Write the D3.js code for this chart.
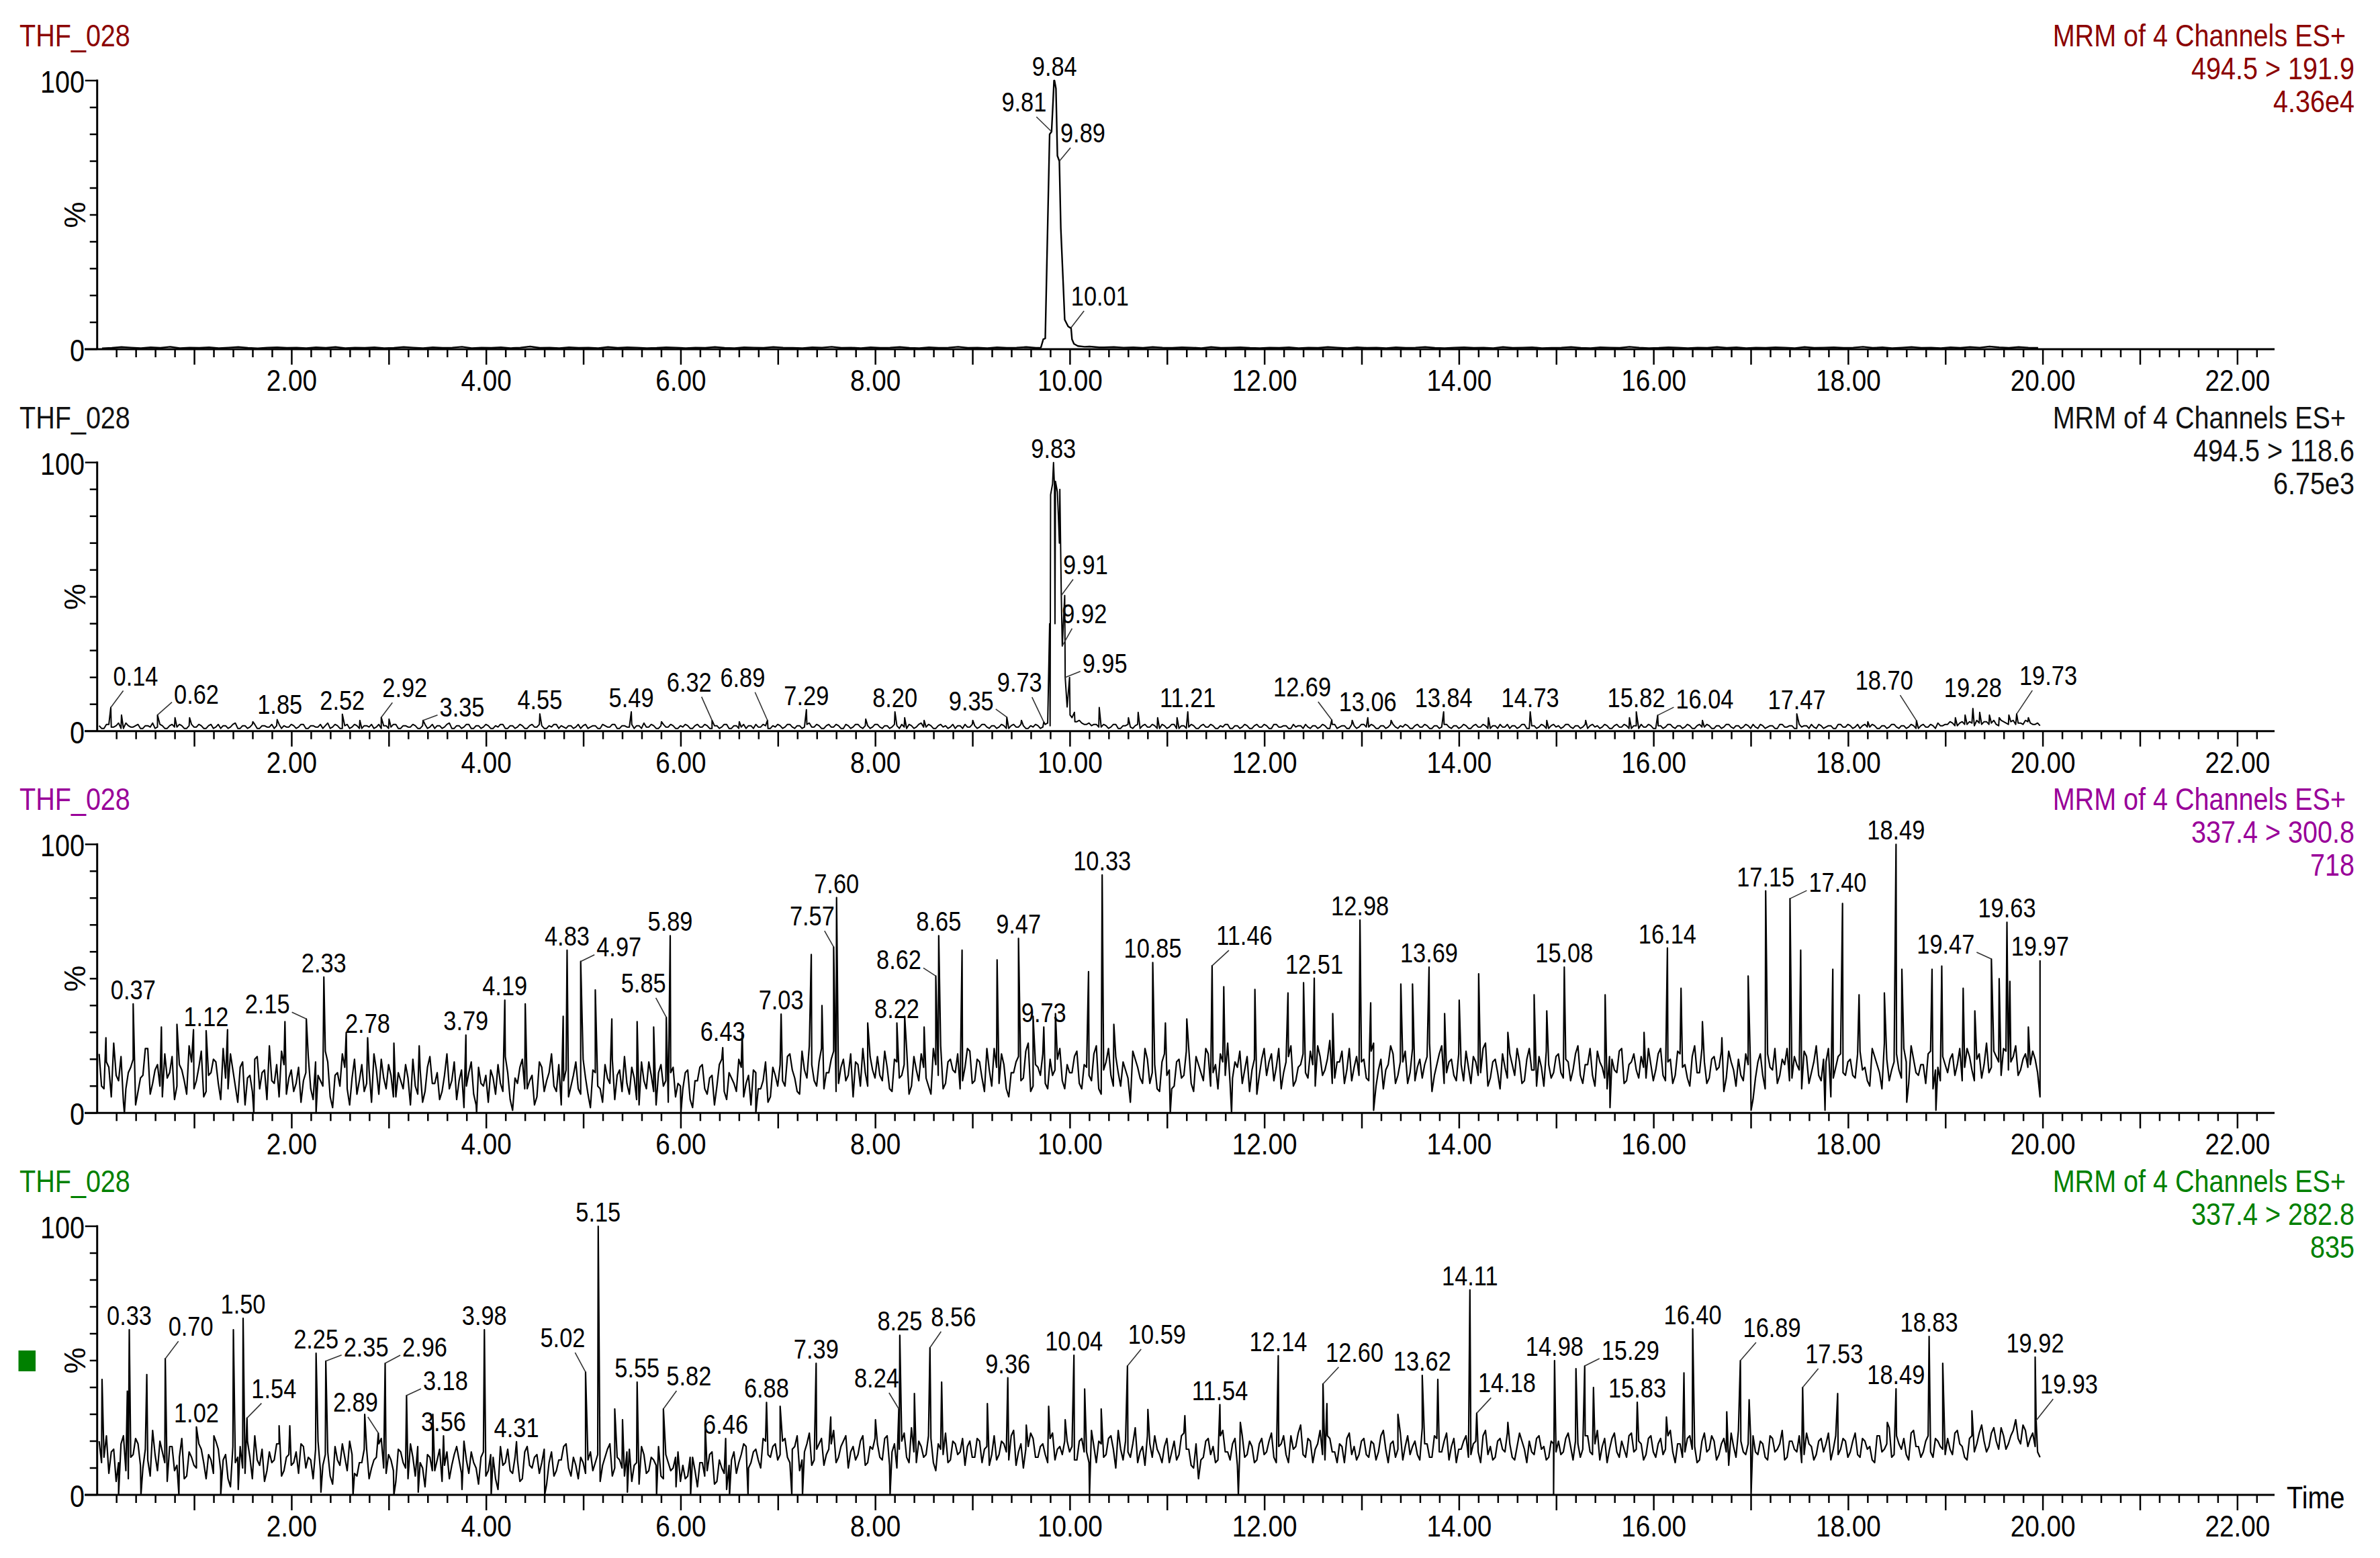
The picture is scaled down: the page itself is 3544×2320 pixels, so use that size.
<!DOCTYPE html>
<html><head><meta charset="utf-8">
<script src="https://cdn.jsdelivr.net/npm/d3@7"></script>
<style>html,body{margin:0;padding:0;background:#fff;} svg{display:block;background:#fff}</style>
</head><body>
<svg id="c" width="3544" height="2320"></svg>
<script>
// ---------------- DATA ----------------
const sampleName = "THF_028";
const headerLine = "MRM of 4 Channels ES+";
const channels = ["494.5 > 191.9", "494.5 > 118.6", "337.4 > 300.8", "337.4 > 282.8"];
const intensities = ["4.36e4", "6.75e3", "718", "835"];
const xTickLabels = ["2.00","4.00","6.00","8.00","10.00","12.00","14.00","16.00","18.00","20.00","22.00"];
const yTickLabels = ["0", "100"];

// Panel 1 baseline, t = 0.05 + 0.1*i (% of max)
const p1Base = [
0.3,0.5,0.8,0.6,0.4,0.7,0.5,0.9,0.4,0.6, 0.5,0.7,0.4,0.6,0.8,0.5,0.3,0.6,0.7,0.5,
0.6,0.4,0.7,0.5,0.8,0.4,0.6,0.5,0.7,0.4, 0.5,0.8,0.6,0.4,0.7,0.5,0.6,0.9,0.4,0.6,
0.5,0.7,0.4,0.6,1.0,0.5,0.6,0.4,0.7,0.5, 0.6,0.4,0.8,0.5,0.7,0.6,0.4,0.5,0.7,0.6,
0.4,0.6,0.5,0.8,0.5,0.4,0.7,0.6,0.5,0.8, 0.6,0.5,0.4,0.7,0.6,0.9,0.5,0.6,0.4,0.7,
0.5,0.6,0.8,0.5,0.4,0.7,0.5,0.6,0.9,0.5, 0.6,0.4,0.7,0.5,0.6,0.8,0.5,0.6,0.7,0.9,
1.0,0.9,0.8,0.7,0.8,0.6,0.7,0.5,0.8,0.6, 0.5,0.7,0.6,0.4,0.8,0.5,0.6,0.7,0.5,0.4,
0.6,0.5,0.7,0.4,0.6,0.5,0.8,0.6,0.4,0.7, 0.5,0.6,0.4,0.7,0.5,0.6,0.8,0.5,0.4,0.6,
0.7,0.5,0.6,0.4,0.8,0.5,0.6,0.7,0.4,0.5, 0.6,0.8,0.5,0.4,0.7,0.6,0.5,0.9,0.6,0.4,
0.5,0.7,0.6,0.4,0.6,0.5,0.8,0.5,0.7,0.4, 0.6,0.5,0.7,0.6,0.4,0.8,0.5,0.6,0.7,0.5,
0.6,0.9,0.5,0.7,0.4,0.6,0.8,0.5,0.6,0.4, 0.7,0.5,0.8,0.6,1.0,0.7,0.5,0.8,0.6,0.5];
const p1Peaks = [[9.81,81],[9.84,100],[9.89,70],[10.01,8]];
const p1Extra = [[9.70,0.6],[9.725,3.7],[9.745,4],[9.79,80],[9.825,92],[9.835,100],[9.855,97],[9.87,72],[9.905,45],[9.93,24],[9.945,11],[9.98,8.5],[10.0,8],[10.02,3.7],[10.04,2],[10.08,1.2],[10.15,0.9],[10.2,1.0],[10.3,0.7]];

// Panels 2-4 noise: series A at t = 0.02 + 0.05*i, series B at t = 0.045 + 0.05*i (% of max)
const p2NoiseA = [
2,1,2.5,1.5,3,1,2,1.5,2.5,1,2,3,1.5,2,1,2.5,1.5,2,1,2.5,
1.5,2,1,2.5,1.5,1,2,1.5,3,1,2,1.5,2.5,1,2,1.5,1,2.5,2,1.5,
2,1.5,2.5,1,2,1.5,1,3,1.5,2,1,2.5,1.5,2,1,2,2.5,1.5,1,2,
1.5,2.5,1,2,1.5,2,1,2.5,1.5,1,2,1.5,3,1,2,1.5,2.5,1,2,1.5,
2,1,1.5,2.5,1,2,1.5,2,1,2.5,1.5,2,1,1.5,2.5,2,1,2,1.5,1,
2.5,1.5,2,1,2,1.5,2.5,1,2,1.5,1,2,3,1.5,2,1,2.5,1.5,2,1,
1.5,2,1,2.5,1.5,2,1,2,1.5,2.5,1,2,1.5,1,2,2.5,1.5,2,1,1.5,
2,1.5,2.5,1,2,1.5,3,1.5,2,1,2.5,1.5,2,1,2,1.5,2.5,1,2,1.5,
2.5,1,2,1.5,2,2.5,1,2,1.5,3,1.5,2,1,2.5,2,1.5,1,2,2.5,1.5,
2,1.5,2.5,1,2,1.5,2,1,2.5,1.5,2,1,1.5,2,1.5,3,92,89,31.7,9,
5,3.5,3,2.5,2,2.5,1.5,2,1.5,2.5,1,2,1.5,2,1,2.5,1.5,2,1,2,
1.5,2.5,1,2,1.5,2,1,2.5,1.5,2,1,1.5,2.5,1,2,1.5,2,1,2.5,1.5,
2,1,2.5,1.5,2,1,1.5,2,2.5,1,2,1.5,2,1,2.5,1.5,2,1,2,1.5,
2.5,1.5,2,1,2,1.5,2.5,1,1.5,2,1,2.5,1.5,2,1,2,1.5,2.5,1,2,
1.5,2,1,2.5,1.5,2,1,2,2.5,1.5,1,2,1.5,2.5,1,2,1.5,2,1,2.5,
2,1.5,2.5,1,2,1.5,1,2.5,2,1.5,2,1,2.5,1.5,2,1,2,2.5,1.5,2,
1,2,1.5,2.5,1,2,1.5,2,1,2.5,1.5,2,1,2,1.5,2.5,1,2,1.5,2,
2.5,1,2,1.5,2,1,2.5,1.5,2,1,1.5,2,2.5,1,2,1.5,2,1,2.5,1.5,
2,1.5,1,2.5,1.5,2,1,2,1.5,2.5,1,2,1.5,2,1,2.5,1.5,2,3,2,
2.5,3,2,3.5,2.5,3,4,2.5,3.5,3,2.5,4,3,3.5,2.5,3,4,3,2.5,2];
const p2NoiseB = [
1,2.5,1.5,2,1,3,1.5,2,1,2,1.5,1,2.5,1,2,1.5,2.5,1,2,1.5,
2.5,1,2,1,2.5,2,1,2.5,1,2,1,2.5,1,2,1.5,2.5,2,1,1.5,2.5,
1,2.5,1,2,1.5,2.5,2,1,2.5,1,2,1,2.5,1,2,1.5,1,2.5,2,1,
2.5,1,2,1.5,2.5,1,2,1,2.5,2,1,2.5,1,2,1,2.5,1,2,1,2.5,
1,2,2.5,1,2,1,2.5,1,2,1.5,2.5,1,2,2.5,1,1.5,2,1,2.5,2,
1,2,1,2.5,1.5,2.5,1,2,1.5,2.5,2,1,1.5,2.5,1,2,1.5,2.5,1,2,
2.5,1,2,1.5,2.5,1,2,1,2.5,1,2,1,2.5,2,1,1.5,2.5,1,2,2.5,
1,2.5,1.5,2,1,2.5,1.5,2.5,1,2,1.5,2.5,1,2.5,1,2.5,1.5,2,1,2.5,
1.5,2,1,2.5,1,1.5,2.5,1,2.5,1.5,2.5,1,2,1.5,1,2.5,2,1,1.5,2.5,
1,2.5,1.5,2,1,2.5,1,2,1.5,2.5,1,2,2.5,1,2.5,2,40,90,50.5,20,
7,4,2.5,3,2.5,1.5,2.5,1,2.5,1,2,2.5,1,2.5,2,1.5,2.5,1,2.5,1,
2.5,1,2,1,2.5,1,2,1.5,2.5,1,2,2.5,1,2,1,2.5,1,2,1.5,2.5,
1,2.5,1.5,2,1,2.5,2,1,1.5,2,1,2.5,1,2.5,1,2,1,2.5,1,2.5,
1.5,2.5,1,2,1,2.5,1.5,2,2.5,1,2,1.5,2.5,1,2,1,2.5,1.5,2,1,
2.5,1,2,1.5,2.5,1,2,1,1.5,2.5,2,1,2.5,1,2,1,2.5,1,2,1.5,
1,2.5,1.5,2,1,2.5,2,1.5,1,2.5,1,2,1.5,2.5,1,2,1,1.5,2.5,1,
2,1,2.5,1.5,2,1,2.5,1,2,1.5,2.5,1,2,1,2.5,1.5,2,1,2.5,1,
1.5,2.5,1,2,1,2.5,1.5,2,1,2.5,2,1,1.5,2.5,1,2,1,2.5,1.5,2.5,
1,2.5,2,1.5,2.5,1,2,1,2.5,1.5,2,1,2.5,1,2,1.5,2.5,1,2,2.5,
3.5,2,3,2.5,3.5,2,3,3.5,2.5,4,2,3.5,2.5,4,3,2.5,3.5,2.5,3];
const p2Peaks = [[0.14,8.8],[0.62,6],[1.85,4.3],[2.52,6.3],[2.92,5.1],[3.35,4],[4.55,6.4],[5.49,7.2],[6.32,4],[6.89,4],[7.29,8],[8.20,7.2],[9.35,5.2],[9.73,3.4],[9.83,100],[9.91,50.5],[9.92,31.7],[9.95,20],[11.21,7.2],[12.69,4.2],[13.06,5],[13.84,7.2],[14.73,7.2],[15.82,7.2],[16.04,5.9],[17.47,6.4],[18.70,3.9],[19.28,8.4],[19.73,6.4]];
const p2Extra = [[0.25,6],[0.8,5],[0.95,5],[1.6,3.5],[2.7,4],[3.0,4.5],[5.8,3.5],[6.6,3.5],[7.9,4.5],[8.3,5],[8.5,4],[9.0,4],[9.5,4],[9.79,40],[9.80,88],[9.81,90],[9.82,92],[9.84,91],[9.85,93],[9.88,80],[9.89,70],[9.97,9],[10.0,6],[10.05,3.5],[10.3,8.8],[10.6,5],[10.7,7],[10.9,5],[11.1,5],[12.9,4],[13.3,4],[14.3,5],[14.9,4],[15.3,4],[15.75,5],[16.5,4],[18.2,3.5],[19.1,5],[19.2,6],[19.35,7],[19.45,6],[19.55,5],[19.65,6],[19.85,5]];

const p3NoiseA = [
22,9,17,26,12,4,15,20,8,14,24,11,18,6,13,21,10,16,7,19,
12,23,8,15,19,5,13,22,10,17,3,14,20,9,16,25,11,6,18,13,
8,17,12,21,5,14,10,19,2,15,22,9,13,7,18,11,4,16,20,9,
14,6,12,18,3,10,16,8,21,11,5,14,9,19,12,2,15,7,17,10,
4,13,18,8,15,1,11,20,9,14,6,17,12,22,8,3,16,10,19,7,
13,2,15,9,18,11,5,16,21,7,13,3,12,19,8,15,10,4,17,11,
9,16,2,12,18,7,14,10,20,5,13,8,17,11,3,15,9,19,6,14,
18,10,22,13,7,16,25,12,19,9,15,23,11,20,14,6,18,24,10,16,
21,12,17,8,19,14,24,10,16,22,13,7,18,25,11,20,15,9,17,23,
12,19,8,16,24,11,18,6,15,21,13,26,10,17,22,9,14,20,12,18,
15,23,9,17,12,25,7,19,14,21,10,16,4,20,13,24,11,18,8,22,
16,10,20,14,24,8,18,12,22,15,9,19,26,13,17,11,21,16,7,20,
14,22,17,9,19,25,12,18,15,23,10,21,16,27,13,19,11,24,17,14,
20,12,26,16,9,18,22,14,19,11,24,17,13,21,8,18,25,15,20,12,
18,23,11,19,15,26,13,20,9,17,22,14,19,12,24,16,21,10,18,15,
22,13,19,16,25,11,18,14,23,17,9,20,15,24,12,19,16,21,13,18,
16,24,12,20,14,22,18,10,25,15,19,13,21,17,8,23,16,20,12,18,
5,19,14,22,16,11,20,24,13,18,9,21,15,25,12,19,6,17,22,14,
20,13,23,17,10,21,15,26,12,19,16,24,11,20,14,18,22,9,17,21,
15,22,18,12,24,16,20,13,26,17,21,14,23,19,25,16,22,18,20,6];
const p3NoiseB = [
10,19,6,14,21,9,17,3,13,24,7,16,10,22,15,5,18,12,25,9,
17,6,14,20,11,24,9,16,4,19,13,8,21,15,5,12,18,23,7,16,
11,4,15,9,19,12,23,6,14,10,17,3,20,12,8,16,22,7,13,18,
6,15,9,13,20,7,4,17,11,15,8,22,12,5,16,10,19,3,11,14,
16,7,11,21,5,13,17,9,12,3,19,8,15,10,18,12,6,14,9,20,
7,16,10,4,13,20,14,8,11,17,5,19,9,14,3,18,12,15,6,10,
15,5,12,17,9,13,3,18,8,15,11,20,6,14,16,9,12,4,17,10,
12,21,16,8,23,13,18,10,24,15,20,8,17,12,22,19,10,15,21,13,
14,23,9,20,13,18,7,21,12,17,10,24,14,9,19,16,22,12,24,11,
20,13,24,10,17,22,9,15,19,12,23,8,18,14,11,20,16,24,9,15,
21,11,18,14,22,9,16,24,10,15,19,13,23,17,11,20,15,9,19,14,
9,19,13,23,11,21,15,24,10,18,22,14,11,19,23,16,8,20,14,24,
19,12,24,15,21,10,17,22,13,18,25,14,20,11,19,23,16,12,21,19,
13,23,10,20,16,25,11,19,23,15,12,20,18,26,14,22,11,19,14,22,
12,17,21,14,24,10,19,15,22,13,18,24,11,20,16,10,17,23,13,21,
15,20,12,22,14,18,24,10,19,13,21,16,23,11,18,22,13,17,24,12,
22,14,19,11,23,17,13,21,15,24,11,20,16,23,13,19,10,14,22,16,
13,22,9,17,24,14,18,12,21,16,23,11,19,14,20,24,13,21,15,19,
14,22,16,12,24,18,9,20,16,22,13,19,25,15,18,11,23,16,12,18,
20,14,24,17,21,12,22,18,15,23,19,24,16,21,14,20,17,23,15];
const p3Peaks = [[0.37,40.6],[1.12,30.6],[2.15,35],[2.33,50.6],[2.78,28],[3.79,29],[4.19,42],[4.83,60.6],[4.97,56.4],[5.85,35.6],[5.89,66],[6.43,24.3],[7.03,36.8],[7.57,61.8],[7.60,80.2],[8.22,33.5],[8.62,51],[8.65,66],[9.47,65],[9.73,32],[10.33,88.6],[10.85,56],[11.46,54.8],[12.51,50.2],[12.98,71.8],[13.69,54.3],[15.08,54.3],[16.14,61.4],[17.15,82.7],[17.40,79.8],[18.49,100],[19.47,57.3],[19.63,71],[19.97,56.8]];
const p3Extra = [[0.09,28],[0.28,0],[0.66,32],[0.82,33],[0.99,31],[1.34,31],[1.61,0],[1.93,34],[2.25,0],[2.56,30],[3.05,26],[3.31,25],[3.90,0],[4.40,40.6],[4.79,36],[5.12,45.8],[5.29,35],[5.55,34],[5.72,32],[6.0,0],[6.63,30],[6.77,0],[7.34,59],[7.45,40],[7.92,33.5],[8.30,36],[8.50,32],[8.89,60.6],[9.25,57],[9.62,36],[9.85,37],[10.19,52.6],[10.45,33],[10.98,33.5],[11.03,0],[11.2,35],[11.58,47],[11.66,0],[11.90,46],[12.24,44.7],[12.40,48.5],[12.7,37],[13.09,41],[13.12,1],[13.40,48],[13.52,48],[13.85,37],[14.0,42],[14.2,51.8],[14.5,30],[14.77,44],[14.9,38],[15.5,44],[15.55,2],[15.9,30],[16.28,46.4],[16.5,34],[16.7,28],[16.97,51],[17.0,1],[17.51,60.6],[17.76,1],[17.84,53.5],[17.94,78],[18.11,44],[18.37,44.7],[18.55,53.5],[18.6,4],[18.86,53.5],[18.9,1],[18.96,54.7],[19.18,46.4],[19.3,38],[19.55,50],[19.66,49],[19.85,32]];

const p4NoiseA = [
20,14,8,17,12,22,6,15,19,10,13,24,9,16,5,18,11,21,7,14,
10,17,6,13,20,9,15,3,12,18,8,14,22,11,5,16,13,19,9,15,
12,8,18,14,6,20,11,16,4,13,19,9,15,7,12,17,10,14,21,8,
13,5,16,10,19,7,12,3,14,9,17,11,6,15,13,20,8,12,4,16,
9,14,2,11,17,8,13,6,18,10,15,12,4,16,9,13,19,7,11,14,
8,16,12,5,14,19,10,13,7,17,11,4,15,9,13,18,6,12,10,16,
11,7,14,3,12,9,16,5,10,2,13,8,15,18,12,17,10,20,14,19,
15,21,12,18,9,16,23,13,19,11,17,24,14,20,10,18,15,22,12,17,
19,13,22,16,10,20,14,25,12,18,15,21,9,17,23,13,19,16,11,20,
14,20,17,11,22,15,19,13,24,16,10,18,21,14,19,12,23,17,15,20,
18,13,21,16,24,12,19,15,22,10,17,20,14,25,16,11,19,22,15,18,
12,20,15,23,17,10,6,14,21,18,13,24,16,19,11,22,15,18,13,21,
16,23,12,19,15,22,18,26,14,20,17,24,13,21,16,19,12,23,18,15,
21,14,19,16,24,12,20,17,13,22,18,15,25,19,14,21,16,23,18,12,
17,22,15,20,12,24,18,14,21,16,19,13,23,17,20,15,22,18,14,19,
20,16,23,13,19,17,22,15,24,18,12,21,16,20,14,23,17,19,15,22,
14,21,17,24,12,19,16,22,18,13,23,17,20,15,21,11,18,24,16,19,
22,15,19,13,21,17,24,14,20,16,12,23,18,15,21,19,13,22,17,20,
16,23,14,20,18,12,22,17,25,15,19,21,13,24,18,16,22,14,20,17,
21,15,24,18,13,22,19,26,16,23,20,25,17,22,28,19,24,21,18,14];
const p4NoiseB = [
12,22,16,5,19,9,14,21,11,17,7,15,20,12,18,9,14,6,16,11,
19,12,15,8,17,13,6,18,14,10,20,6,13,17,9,12,19,7,14,11,
16,19,10,13,17,9,15,7,18,11,14,20,8,12,17,6,13,19,10,15,
9,17,12,6,14,18,10,15,9,13,5,16,11,18,8,13,16,10,14,7,
15,6,18,12,9,14,5,16,11,14,8,17,12,7,13,18,10,14,6,12,
13,9,15,11,17,7,14,10,16,5,12,18,8,14,11,7,15,9,14,5,
6,14,9,12,7,15,4,13,8,11,16,12,19,10,16,13,21,15,18,13,
20,14,17,22,13,19,11,17,21,15,19,12,18,22,16,13,20,11,18,21,
14,21,11,19,17,23,12,16,20,14,22,12,19,15,12,20,15,21,18,14,
21,12,18,15,13,20,16,22,11,19,17,23,14,18,15,21,13,18,20,16,
13,20,16,12,18,20,14,21,17,24,13,16,19,12,18,22,14,17,12,21,
16,13,22,17,11,19,13,20,15,12,22,16,13,21,17,14,20,12,19,15,
20,14,18,22,12,17,23,15,21,12,19,15,22,16,12,18,21,15,13,20,
15,20,13,22,17,19,14,23,18,15,20,13,19,14,22,16,20,13,21,17,
20,14,19,16,22,15,13,20,17,23,14,18,20,12,16,21,17,13,20,16,
15,21,18,20,14,22,16,19,13,21,17,23,14,17,22,16,20,13,21,16,
19,15,22,16,19,14,21,17,12,20,16,22,13,19,16,23,14,20,15,22,
16,20,14,22,16,19,13,20,17,22,15,19,13,20,16,23,17,15,21,14,
20,15,21,17,13,22,16,19,14,22,17,15,23,18,14,20,16,21,18,15,
17,23,19,14,21,16,23,20,18,25,17,22,19,24,21,26,18,23,16];
const p4Peaks = [[0.33,61.5],[0.70,50.7],[1.02,25.3],[1.50,65.7],[1.54,28.6],[2.25,52.75],[2.35,49.8],[2.89,23],[2.96,49],[3.18,37],[3.56,22],[3.98,61.5],[4.31,19.8],[5.02,45.7],[5.15,100],[5.55,42],[5.82,32],[6.46,21],[6.88,34.4],[7.39,49],[8.24,32],[8.25,59.4],[8.56,54.8],[9.36,43.6],[10.04,52],[10.59,48],[11.54,33.6],[12.14,51.8],[12.60,41.3],[13.62,44.5],[14.11,76.3],[14.18,30.4],[14.98,50],[15.29,48],[15.83,34.5],[16.40,61.8],[16.89,50],[17.53,40],[18.49,39.5],[18.83,59],[19.92,51.3],[19.93,27.7]];
const p4Extra = [[0.05,43],[0.22,0],[0.31,38.6],[0.45,0],[0.51,44.8],[0.84,0],[1.2,22],[1.27,0],[1.4,61.5],[1.45,2],[1.87,25.7],[1.98,25.7],[2.3,1],[2.63,0],[2.75,30],[3.05,0],[3.3,1],[3.45,30],[3.75,2],[4.05,0],[4.6,0],[5.32,32],[5.4,28],[5.45,1],[5.75,0],[5.95,3],[6.1,0],[6.25,26],[6.5,0],[6.69,0],[7.02,33],[7.14,0],[7.25,0],[7.54,29],[8.0,28],[8.15,0],[8.40,37.75],[8.68,42],[9.15,34],[9.55,26],[9.78,33],[9.95,28],[10.15,39.4],[10.2,0],[10.32,32],[10.8,31.8],[11.18,29.5],[11.73,0],[11.75,27],[12.64,34],[13.37,30],[13.78,43],[14.5,27],[14.97,0],[15.2,47],[15.38,40],[16.13,29],[16.31,45.4],[16.75,30.9],[16.98,35.4],[17.0,0],[17.89,37.7],[18.4,27],[18.97,49],[19.27,31.3]];

// ---------------- LAYOUT (label offsets: [dx, dy] of label from its peak) ----------------
const p1Layout = {"9.81":[-41,-30],"9.89":[35,-28],"10.01":[43,-33]};
const p2Layout = {"0.14":[37,-33],"0.62":[58,-17],"1.85":[4,-9],"2.92":[35,-30],"3.35":[58,-6],"6.32":[-34,-43],"6.89":[-37,-50],"9.35":[-53,-10],"9.73":[-36,-45],"9.91":[36,-32],"9.92":[33,-34],"9.95":[59,-7],"12.69":[-44,-35],"13.06":[0,-10],"16.04":[70,-10],"18.70":[-48,-46],"19.28":[0,-17],"19.73":[47,-43]};
const p3Layout = {"2.15":[-58,-8],"4.97":[57,-8],"5.85":[-34,-37],"6.43":[0,-10],"7.57":[-32,-32],"8.62":[-55,-10],"11.46":[48,-31],"17.40":[71,-10],"19.47":[-68,-8]};
const p4Layout = {"0.70":[38,-34],"1.54":[40,-30],"2.35":[60,-7],"2.89":[-34,-32],"2.96":[59,-10],"3.18":[58,-8],"5.02":[-34,-37],"5.82":[38,-35],"8.24":[-33,-32],"8.56":[35,-32],"10.59":[44,-33],"12.60":[47,-33],"14.18":[45,-31],"15.29":[68,-9],"16.89":[47,-35],"17.53":[47,-36],"19.93":[49,-40]};

// ---------------- RENDER ----------------
const svg = d3.select('#c');
const FONT = "'Liberation Sans', Arial, sans-serif";
const SX = 0.86;
const colors = ['#8B0000', '#111111', '#990099', '#008000'];
const traceWidths = [2.4, 2.0, 2.2, 2.2];

function txt(g, s, x, y, size, anchor, color) {
  return g.append('text')
    .attr('transform', `translate(${x},${y}) scale(${SX},1)`)
    .attr('font-family', FONT).attr('font-size', size)
    .attr('text-anchor', anchor || 'start')
    .attr('fill', color || '#000').text(s);
}

const grid = (vals, start, step) => vals.map((v, i) => [+(start + i * step).toFixed(3), v]);
const merge = (...arrs) => [].concat(...arrs).sort((a, b) => a[0] - b[0]);

const x = d3.scaleLinear().domain([0, 22]).range([144.7, 144.7 + 22 * 144.87]);
const panelY0 = [520, 1088.7, 1657.3, 2226];
const PH = 400;

const series = [
  merge(grid(p1Base, 0.05, 0.1).filter(d => d[0] < 9.66 || d[0] > 10.34), p1Peaks, p1Extra),
  merge(grid(p2NoiseA, 0.02, 0.05), grid(p2NoiseB, 0.045, 0.05), p2Peaks, p2Extra),
  merge(grid(p3NoiseA, 0.02, 0.05), grid(p3NoiseB, 0.045, 0.05), p3Peaks, p3Extra),
  merge(grid(p4NoiseA, 0.02, 0.05), grid(p4NoiseB, 0.045, 0.05), p4Peaks, p4Extra)
].map(s => s.filter(d => d[0] <= 19.975));
const peaks = [p1Peaks, p2Peaks, p3Peaks, p4Peaks];
const layouts = [p1Layout, p2Layout, p3Layout, p4Layout];

panelY0.forEach((y0, k) => {
  const y = d3.scaleLinear().domain([0, 100]).range([y0, y0 - PH]);
  const g = svg.append('g');
  const col = colors[k];
  const off = k * 568.7;

  txt(g, sampleName, 29, 69 + off, 46, 'start', col);
  txt(g, headerLine, 3493, 69 + off, 46, 'end', col);
  txt(g, channels[k], 3506, 118 + off, 46, 'end', col);
  txt(g, intensities[k], 3506, 167 + off, 46, 'end', col);

  // y axis
  g.append('line').attr('x1', x(0)).attr('x2', x(0)).attr('y1', y(100) - 1.5).attr('y2', y(0))
    .attr('stroke', '#000').attr('stroke-width', 3);
  d3.range(0, 101, 10).forEach(v => {
    const len = (v === 0 || v === 100) ? 18 : 11;
    g.append('line').attr('x1', x(0) - len).attr('x2', x(0)).attr('y1', y(v)).attr('y2', y(v))
      .attr('stroke', '#000').attr('stroke-width', 2.5);
  });
  txt(g, yTickLabels[1], 126, y(100) + 18, 46, 'end', '#000');
  txt(g, yTickLabels[0], 126, y(0) + 18, 46, 'end', '#000');
  g.append('text').attr('transform', `translate(${x(0) - 18},${y(50)}) rotate(-90)`)
    .attr('font-family', FONT).attr('font-size', 44).attr('text-anchor', 'middle')
    .attr('fill', '#000').text('%');

  // x axis
  g.append('line').attr('x1', 126).attr('x2', 3387).attr('y1', y0).attr('y2', y0)
    .attr('stroke', '#000').attr('stroke-width', 3);
  d3.range(1, 112).forEach(i => {
    const t = i * 0.2;
    const major = (i % 5 === 0);
    g.append('line').attr('x1', x(t)).attr('x2', x(t)).attr('y1', y0).attr('y2', y0 + (major ? 23 : 12))
      .attr('stroke', '#000').attr('stroke-width', 2.5);
  });
  xTickLabels.forEach(s => txt(g, s, x(+s), y0 + 62, 45, 'middle', '#000'));

  // trace
  const line = d3.line().x(d => x(d[0])).y(d => y(d[1]));
  g.append('path').datum(series[k]).attr('d', line).attr('fill', 'none')
    .attr('stroke', '#000').attr('stroke-width', traceWidths[k]).attr('stroke-linejoin', 'round');

  // peak labels
  peaks[k].forEach(([t, v]) => {
    const s = t.toFixed(2);
    const lay = layouts[k][s] || [0, -7];
    const px = x(t), py = y(v);
    const cx = px + lay[0], by = py + lay[1];
    const te = txt(g, s, cx, by, 40, 'middle', '#000');
    if (Math.abs(lay[0]) > 12) {
      const hw = te.node().getComputedTextLength() * SX / 2;
      const sg = Math.sign(lay[0]);
      let lx, ly;
      if (lay[1] <= -18) { lx = cx - sg * hw * 0.55; ly = by + 8; }
      else { lx = cx - sg * (hw + 3); ly = by - 2; }
      g.append('line').attr('x1', px).attr('y1', py).attr('x2', lx).attr('y2', ly)
        .attr('stroke', '#333').attr('stroke-width', 1.6);
    }
  });
});

txt(svg, 'Time', 3405, 2246, 46, 'start', '#000');
svg.append('rect').attr('x', 27.5).attr('y', 2011).attr('width', 25.5).attr('height', 31).attr('fill', '#008000');
</script>
</body></html>
